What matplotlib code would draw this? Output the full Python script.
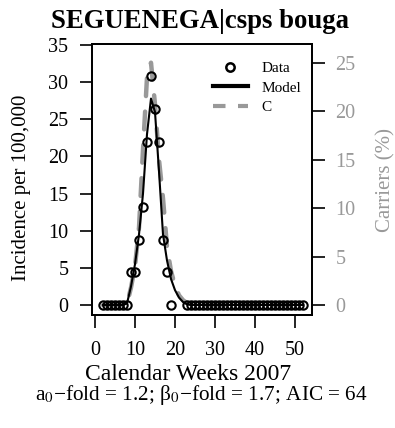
import numpy as np
import matplotlib
matplotlib.use('Agg')
import matplotlib.pyplot as plt
from matplotlib.lines import Line2D

plt.rcParams['font.family'] = ['Liberation Serif', 'DejaVu Serif']
plt.rcParams['mathtext.fontset'] = 'stix'

# observed incidence (per 100,000), weeks 20-22 missing
data_weeks = list(range(2, 20)) + list(range(23, 53))
data_vals = [0, 0, 0, 0, 0, 0, 0, 4.4, 4.4, 8.8, 13.2, 22, 30.8, 26.4, 22, 8.8, 4.4, 0] + [0] * 30

# model fit and carriers, weekly
model_weeks = list(range(2, 53))
model_vals = [0, 0, 0, 0, 0, 0, 0.2, 2.5, 5.5, 9.5, 15, 23, 27.8, 26, 18, 9.5, 6, 3.5,
              2, 1, 0.4, 0.1] + [0] * 29
carrier_vals = [0, 0, 0, 0, 0, 0, 0.1, 1.8, 4, 8, 16, 23.5, 25, 20.7, 15, 11, 6, 3.5,
                2, 1, 0.5, 0.2, 0.1] + [0] * 28

left_ticks = [0, 5, 10, 15, 20, 25, 30, 35]
right_ticks = [0, 5, 10, 15, 20, 25]
x_ticks = [0, 10, 20, 30, 40, 50]

W, H = 395, 428
fig = plt.figure(figsize=(W / 100, H / 100), dpi=100)
ax = fig.add_axes([92 / W, 1 - 315 / H, 220 / W, 271 / H])
ax2 = ax.twinx()

ax2.plot(model_weeks, carrier_vals, color='#999999', lw=3.2, ls=(0, (4, 3.5)),
         solid_capstyle='round', dash_capstyle='round', zorder=3)
ax.plot(model_weeks, model_vals, color='black', lw=1.5, zorder=2)
ax.plot(data_weeks, data_vals, 'o', mfc='none', mec='black', ms=6, mew=1.5, zorder=1)

ax.set_zorder(ax2.get_zorder() + 1)
ax.patch.set_visible(False)

ax.set_xlim(-0.75, 54.25)
ax.set_ylim(-1.35, 35.15)
ax2.set_ylim(-1.03, 26.93)

ax.set_xticks(x_ticks)
ax.set_yticks(left_ticks)
ax2.set_yticks(right_ticks)
for a in (ax, ax2):
    for s in a.spines.values():
        s.set_linewidth(1.3)
ax.tick_params(axis='y', direction='out', length=9, width=1.2, labelsize=14.5, pad=8)
ax.tick_params(axis='x', direction='out', length=9, width=1.2, labelsize=14.5, pad=10)
ax2.tick_params(direction='out', length=9, width=1.2, labelsize=14.5, pad=8,
                labelcolor='#999999')

ax.set_ylabel('Incidence per 100,000', fontsize=15)
ax.yaxis.set_label_coords(-0.277, 0.47)
ax2.set_ylabel('Carriers (%)', fontsize=15, color='#999999')
ax2.yaxis.set_label_coords(1.291, 0.5)
fig.text(188 / W, 1 - 380 / H, 'Calendar Weeks 2007', fontsize=17, ha='center', va='baseline')
fig.text(201 / W, 1 - 400 / H, r'a$_0$−fold = 1.2; β$_0$−fold = 1.7; AIC = 64',
         fontsize=15.3, ha='center', va='baseline')
fig.text(200 / W, 1 - 28.5 / H, 'SEGUENEGA|csps bouga', fontsize=19.3, fontweight='bold',
         ha='center', va='baseline')

handles = [Line2D([], [], ls='none', marker='o', mfc='none', mec='black', ms=6, mew=1.8),
           Line2D([], [], color='black', lw=3),
           Line2D([], [], color='#999999', lw=3, ls=(0, (3, 3)))]
ax.legend(handles, ['Data', 'Model', 'C'], loc='upper right', frameon=False, fontsize=11,
          handlelength=2.3, handletextpad=0.9, labelspacing=0.38,
          bbox_to_anchor=(1.0, 0.975), borderaxespad=0.3)

fig.savefig('out.png', dpi=100)
